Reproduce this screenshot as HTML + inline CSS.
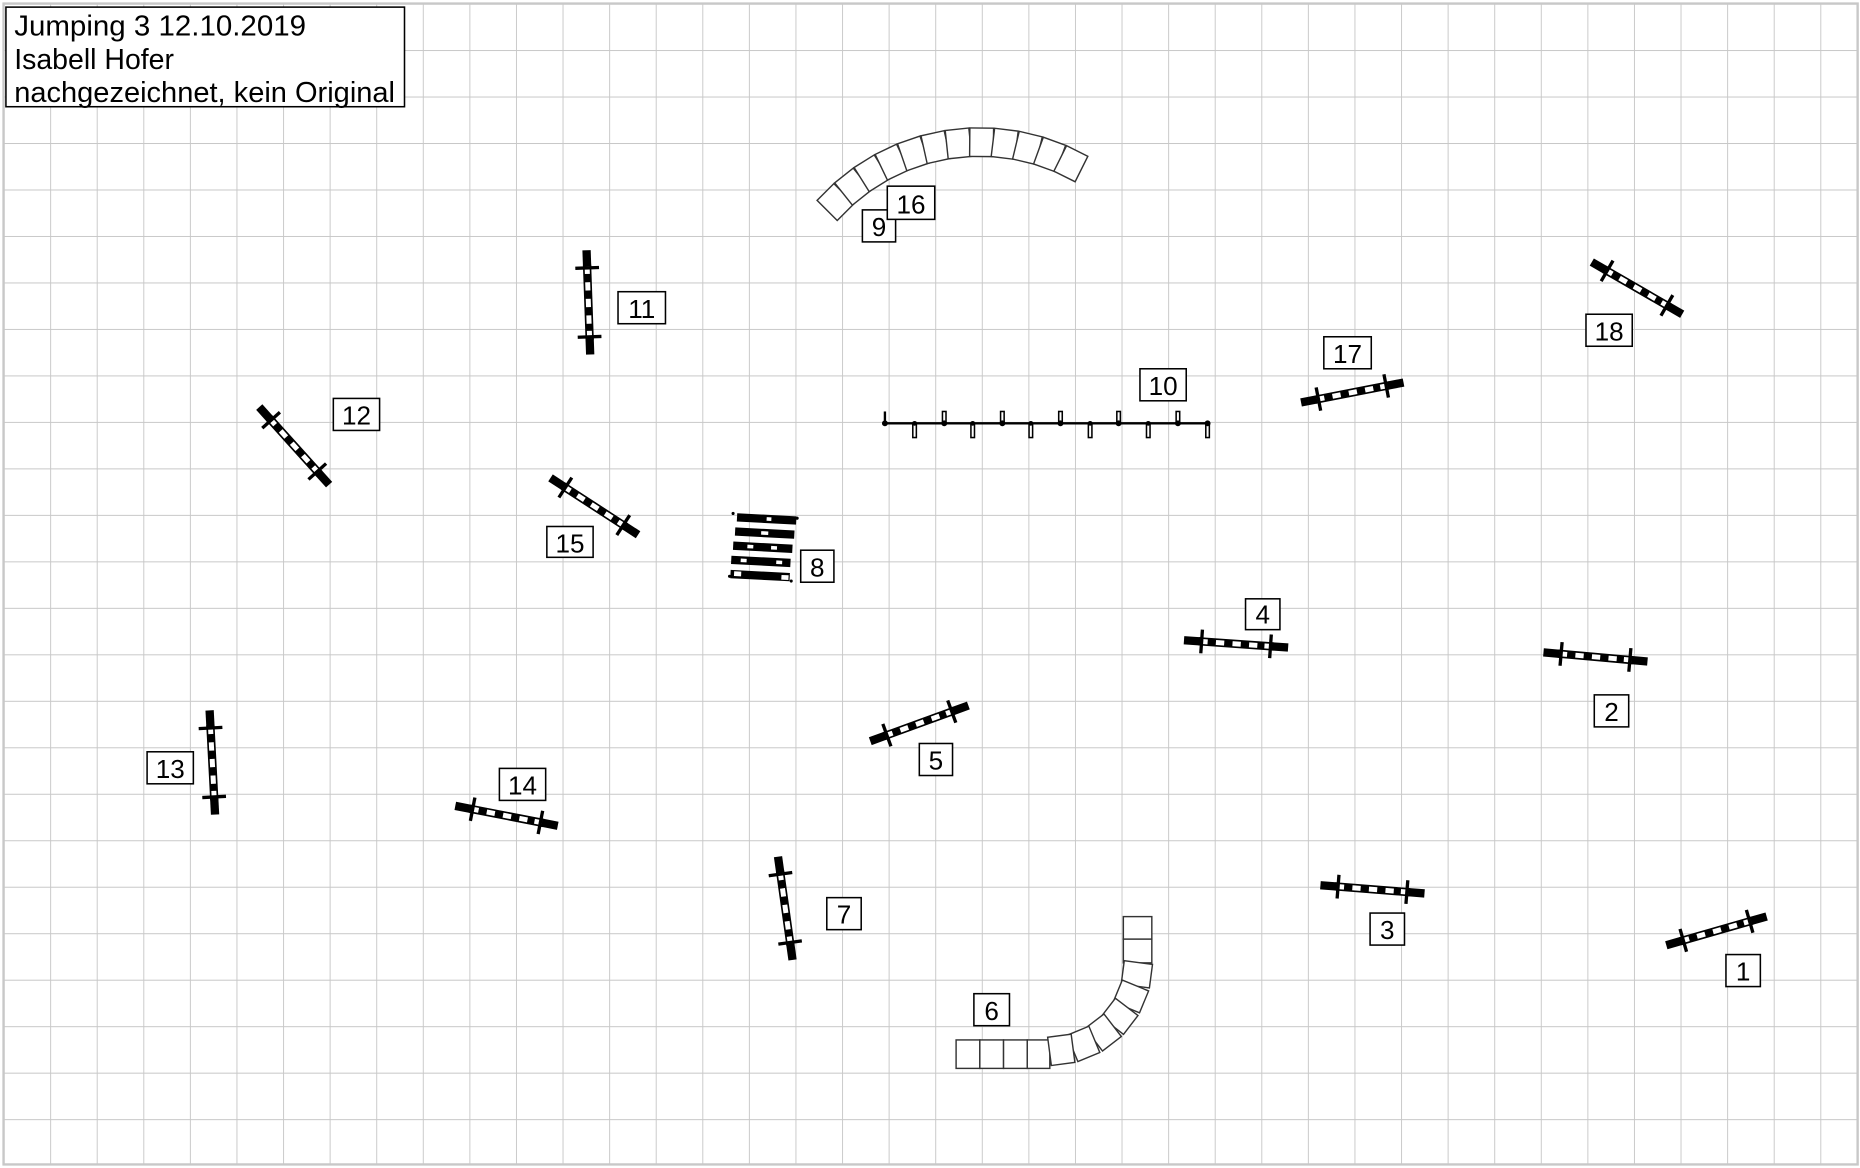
<!DOCTYPE html>
<html><head><meta charset="utf-8"><style>
html,body{margin:0;padding:0;background:#fff;}
svg{display:block;}
text{font-family:"Liberation Sans",Arial,sans-serif;fill:#000;}
</style></head><body>
<svg width="1860" height="1168" viewBox="0 0 1568 985" preserveAspectRatio="none" xmlns="http://www.w3.org/2000/svg">
<defs>
<pattern id="g" x="3" y="3" width="39.27" height="39.2" patternUnits="userSpaceOnUse">
<path d="M0 0V39.2M0 0H39.27" stroke="#c8c8c8" stroke-width="1.6" fill="none"/>
</pattern>
<g id="f">
<rect x="-44" y="-3.5" width="14" height="7" fill="#000"/>
<rect x="30" y="-3.5" width="14" height="7" fill="#000"/>
<rect x="-31" y="-2.8" width="62" height="5.6" fill="#fff" stroke="#000" stroke-width="1.4"/>
<rect x="-24" y="-2.8" width="7" height="5.6" fill="#000"/>
<rect x="-10" y="-2.8" width="7" height="5.6" fill="#000"/>
<rect x="4" y="-2.8" width="7" height="5.6" fill="#000"/>
<rect x="18" y="-2.8" width="6" height="5.6" fill="#000"/>
<rect x="-30.5" y="-10" width="2.8" height="20" fill="#000"/>
<rect x="27.7" y="-10" width="2.8" height="20" fill="#000"/>
</g>
<rect id="b" x="-10" y="-24" width="20" height="24" fill="#fff" stroke="#333" stroke-width="1.2"/>
</defs>
<rect x="0" y="0" width="1568" height="985" fill="#fff"/>
<rect x="3" y="3" width="1563" height="979" fill="url(#g)" stroke="#c8c8c8" stroke-width="2"/>

<!-- title -->
<rect x="5" y="6" width="336" height="84" fill="#fff" stroke="#000" stroke-width="1.3"/>
<text x="12" y="30" font-size="24" textLength="246" lengthAdjust="spacingAndGlyphs">Jumping 3 12.10.2019</text>
<text x="12" y="58" font-size="24">Isabell Hofer</text>
<text x="12" y="86" font-size="24" textLength="321" lengthAdjust="spacingAndGlyphs">nachgezeichnet, kein Original</text>

<!-- fences -->
<use href="#f" transform="translate(1447,785) rotate(-16)"/>
<use href="#f" transform="translate(1345,554) rotate(5)"/>
<use href="#f" transform="translate(1157,750) rotate(4.5)"/>
<use href="#f" transform="translate(1042,543) rotate(4)"/>
<use href="#f" transform="translate(775,610) rotate(-20)"/>
<use href="#f" transform="translate(662,766) rotate(82)"/>
<use href="#f" transform="translate(496,255) rotate(88)"/>
<use href="#f" transform="translate(248,376) rotate(48)"/>
<use href="#f" transform="translate(179,643) rotate(87)"/>
<use href="#f" transform="translate(427,688) rotate(11)"/>
<use href="#f" transform="translate(501,427) rotate(33)"/>
<use href="#f" transform="translate(1140,331) rotate(-11)"/>
<use href="#f" transform="translate(1380,243) rotate(30)"/>

<!-- jump 10 -->
<g stroke="#000" stroke-width="1.3" fill="#fff">
<line x1="746" y1="357" x2="1019" y2="357" stroke-width="2"/>
<line x1="746" y1="347" x2="746" y2="357" stroke-width="2"/>
<rect x="794.5" y="347" width="3" height="10"/><rect x="843.5" y="347" width="3" height="10"/>
<rect x="892.5" y="347" width="3" height="10"/><rect x="941.5" y="347" width="3" height="10"/>
<rect x="991.5" y="347" width="3" height="10"/>
<rect x="769.5" y="357" width="3" height="12"/><rect x="818.5" y="357" width="3" height="12"/>
<rect x="867.5" y="357" width="3" height="12"/><rect x="917.5" y="357" width="3" height="12"/>
<rect x="966.5" y="357" width="3" height="12"/><rect x="1016.5" y="357" width="3" height="12"/>
</g>
<g fill="#000">
<circle cx="746" cy="357" r="2.5"/><circle cx="771" cy="357" r="2"/><circle cx="796" cy="357" r="2.5"/><circle cx="820" cy="357" r="2"/><circle cx="845" cy="357" r="2.5"/><circle cx="869" cy="357" r="2"/><circle cx="894" cy="357" r="2.5"/><circle cx="919" cy="357" r="2"/><circle cx="943" cy="357" r="2.5"/><circle cx="968" cy="357" r="2"/><circle cx="993" cy="357" r="2.5"/><circle cx="1018" cy="357" r="2.5"/>
</g>

<!-- jump 8 -->
<g transform="rotate(3 643 462)">
<rect x="620" y="434" width="50" height="7" fill="#000"/>
<rect x="619" y="446" width="50" height="7" fill="#000"/>
<rect x="618" y="458" width="50" height="7" fill="#000"/>
<rect x="617" y="470" width="50" height="7" fill="#000"/>
<rect x="617" y="482" width="50" height="7" fill="#000"/>
<rect x="645" y="436" width="4" height="3" fill="#fff"/>
<rect x="641" y="448" width="6" height="3" fill="#fff"/>
<rect x="630" y="460" width="5" height="3" fill="#fff"/><rect x="650" y="460" width="5" height="3" fill="#fff"/>
<rect x="625" y="472" width="5" height="3" fill="#fff"/><rect x="655" y="472" width="5" height="3" fill="#fff"/>
<rect x="620" y="483" width="6" height="4" fill="#fff"/><rect x="660" y="484" width="6" height="4" fill="#fff"/>
</g>
<g fill="#000"><circle cx="618" cy="433" r="1.3"/><circle cx="672" cy="437" r="1.3"/><circle cx="615" cy="486" r="1.3"/><circle cx="667" cy="490" r="1.3"/></g>

<!-- arc 9/16 -->
<g transform="translate(826,292)">
<use href="#b" transform="rotate(-45) translate(0,-160)"/>
<use href="#b" transform="rotate(-38.5) translate(0,-160)"/>
<use href="#b" transform="rotate(-32) translate(0,-160)"/>
<use href="#b" transform="rotate(-25.5) translate(0,-160)"/>
<use href="#b" transform="rotate(-19) translate(0,-160)"/>
<use href="#b" transform="rotate(-12.5) translate(0,-160)"/>
<use href="#b" transform="rotate(-6) translate(0,-160)"/>
<use href="#b" transform="rotate(0.5) translate(0,-160)"/>
<use href="#b" transform="rotate(7) translate(0,-160)"/>
<use href="#b" transform="rotate(13.5) translate(0,-160)"/>
<use href="#b" transform="rotate(20) translate(0,-160)"/>
<use href="#b" transform="rotate(26.5) translate(0,-160)"/>
</g>

<!-- arc 6 -->
<g fill="#fff" stroke="#333" stroke-width="1.2">
<rect x="947" y="773" width="24" height="19"/>
<rect x="947" y="792" width="24" height="20"/>
<rect x="806" y="877" width="20" height="24"/>
<rect x="826" y="877" width="20" height="24"/>
<rect x="846" y="877" width="20" height="24"/>
<rect x="866" y="877" width="19" height="24"/>
</g>
<g transform="translate(885,812)">
<use href="#b" transform="rotate(97.5) translate(0,-62)"/>
<use href="#b" transform="rotate(112.5) translate(0,-62)"/>
<use href="#b" transform="rotate(127.5) translate(0,-62)"/>
<use href="#b" transform="rotate(142.5) translate(0,-62)"/>
<use href="#b" transform="rotate(157.5) translate(0,-62)"/>
<use href="#b" transform="rotate(172.5) translate(0,-62)"/>
</g>

<!-- labels -->
<g fill="#fff" stroke="#000" stroke-width="1.3">
<rect x="1455" y="805" width="29" height="27"/>
<rect x="1344" y="586" width="29" height="27"/>
<rect x="1155" y="770" width="29" height="27"/>
<rect x="1050" y="505" width="29" height="26"/>
<rect x="775" y="627" width="28" height="27"/>
<rect x="821" y="838" width="30" height="27"/>
<rect x="697" y="757" width="29" height="27"/>
<rect x="675" y="464" width="28" height="27"/>
<rect x="727" y="177" width="28" height="27"/>
<rect x="748" y="157" width="40" height="28"/>
<rect x="961" y="311" width="39" height="27"/>
<rect x="521" y="246" width="40" height="27"/>
<rect x="281" y="336" width="39" height="27"/>
<rect x="124" y="634" width="39" height="27"/>
<rect x="421" y="648" width="39" height="27"/>
<rect x="461" y="444" width="39" height="26"/>
<rect x="1116" y="284" width="40" height="27"/>
<rect x="1337" y="265" width="39" height="27"/>
</g>
<g font-size="22" text-anchor="middle">
<text x="1469.5" y="827">1</text>
<text x="1358.5" y="608">2</text>
<text x="1169.5" y="792">3</text>
<text x="1064.5" y="526">4</text>
<text x="789" y="649">5</text>
<text x="836" y="860">6</text>
<text x="711.5" y="779">7</text>
<text x="689" y="486">8</text>
<text x="741" y="199">9</text>
<text x="768" y="180">16</text>
<text x="980.5" y="333">10</text>
<text x="541" y="268">11</text>
<text x="300.5" y="358">12</text>
<text x="143.5" y="656">13</text>
<text x="440.5" y="670">14</text>
<text x="480.5" y="466">15</text>
<text x="1136" y="306">17</text>
<text x="1356.5" y="287">18</text>
</g>
</svg>
</body></html>
